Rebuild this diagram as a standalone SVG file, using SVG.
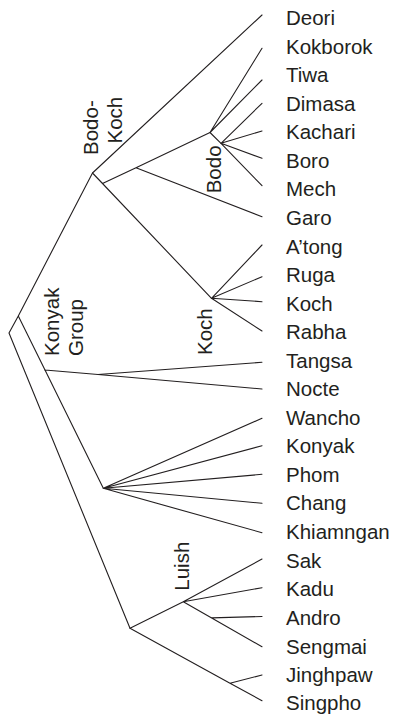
<svg xmlns="http://www.w3.org/2000/svg" width="394" height="714" viewBox="0 0 394 714">
<style>
.e{stroke:#231f20;stroke-width:1.1;fill:none;stroke-linecap:round}
text{font-family:"Liberation Sans",Arial,sans-serif;font-size:20.5px;fill:#231f20}
</style>
<rect width="394" height="714" fill="#fff"/>
<g id="connectors" class="e">
<path d="M9,333L18.3,316M9,333L130,628.3M18.3,316L92.5,173M18.3,316L45,370"/>
<path d="M92.5,173L262,15M92.5,173L102.5,183.5L211.5,298.3M102.5,183.5L136,167.7M136,167.7L210,132.5M136,167.7L262,216.7"/>
<path d="M210,132.5L262,48.3M210,132.5L262,80M210,132.5L221,143.3"/>
<path d="M221,143.3L262,103.3M221,143.3L262,131M221,143.3L262,158.3M221,143.3L262,185.7"/>
<path d="M211.5,298.3L262,245M211.5,298.3L262,276.7M211.5,298.3L262,301.7M211.5,298.3L262,331"/>
<path d="M45,370L98,374.5M45,370L103.3,488.3M98,374.5L262,362.3M98,374.5L262,389"/>
<path d="M103.3,488.3L262,418.3M103.3,488.3L262,445.7M103.3,488.3L262,474.3M103.3,488.3L262,503.3M103.3,488.3L262,532.7"/>
<path d="M130,628.3L183.3,601.7M130,628.3L230,683.3L262,700.7M183.3,601.7L262,559M183.3,601.7L262,587.7M183.3,601.7L211.7,617.9L262,646.7M211.7,617.9L262,616.5M230,683.3L262,675"/>
</g>
<g id="group-labels">
<g id="bodo-koch"><text transform="translate(97.5,155) rotate(-90)">Bodo-</text><text transform="translate(121.5,143.5) rotate(-90)">Koch</text></g>
<g id="bodo"><text transform="translate(221,193.3) rotate(-90)">Bodo</text></g>
<g id="koch-group"><text transform="translate(211.5,355) rotate(-90)">Koch</text></g>
<g id="konyak-group"><text transform="translate(59,356) rotate(-90)">Konyak</text><text transform="translate(82.5,356) rotate(-90)">Group</text></g>
<g id="luish"><text transform="translate(188.5,590.7) rotate(-90)">Luish</text></g>
</g>
<g id="leaves">
<g id="deori"><text x="286" y="25">Deori</text></g>
<g id="kokborok"><text x="286" y="53.6">Kokborok</text></g>
<g id="tiwa"><text x="286" y="82.1">Tiwa</text></g>
<g id="dimasa"><text x="286" y="110.7">Dimasa</text></g>
<g id="kachari"><text x="286" y="139.2">Kachari</text></g>
<g id="boro"><text x="286" y="167.8">Boro</text></g>
<g id="mech"><text x="286" y="196.3">Mech</text></g>
<g id="garo"><text x="286" y="224.9">Garo</text></g>
<g id="atong"><text x="286" y="253.9">A’tong</text></g>
<g id="ruga"><text x="286" y="282.3">Ruga</text></g>
<g id="koch"><text x="286" y="310.7">Koch</text></g>
<g id="rabha"><text x="286" y="339.2">Rabha</text></g>
<g id="tangsa"><text x="286" y="367.6">Tangsa</text></g>
<g id="nocte"><text x="286" y="396.2">Nocte</text></g>
<g id="wancho"><text x="286" y="424.7">Wancho</text></g>
<g id="konyak"><text x="286" y="453.3">Konyak</text></g>
<g id="phom"><text x="286" y="481.8">Phom</text></g>
<g id="chang"><text x="286" y="510.4">Chang</text></g>
<g id="khiamngan"><text x="286" y="538.9">Khiamngan</text></g>
<g id="sak"><text x="286" y="567.5">Sak</text></g>
<g id="kadu"><text x="286" y="596">Kadu</text></g>
<g id="andro"><text x="286" y="624.8">Andro</text></g>
<g id="sengmai"><text x="286" y="653.5">Sengmai</text></g>
<g id="jinghpaw"><text x="286" y="681.9">Jinghpaw</text></g>
<g id="singpho"><text x="286" y="709.8">Singpho</text></g>
</g>
</svg>
